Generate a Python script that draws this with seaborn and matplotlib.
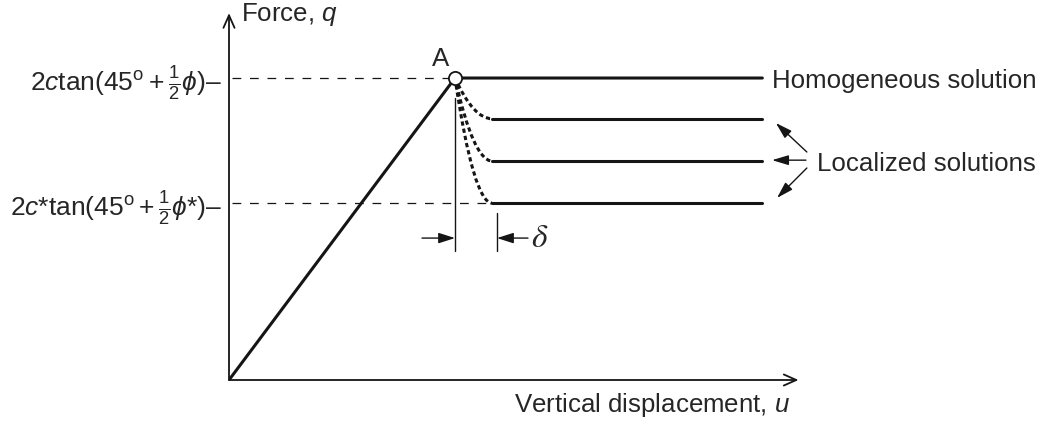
import matplotlib
matplotlib.use("Agg")
import matplotlib.pyplot as plt
import seaborn as sns
import pandas as pd
from matplotlib.path import Path
from matplotlib.patches import PathPatch

# ---------------- data ----------------
u_peak = 1.0            # displacement at point A
q_peak = 1.0            # peak force (homogeneous level)
u_loc_start = 1.164     # where localized plateaus begin
u_end = 2.36            # end of plateaus
q_localized = [0.865, 0.725, 0.586]
u_axis_max = 2.52
q_axis_max = 1.215
u_delta_mark = 1.186    # second dimension line (delta)
ytick_values = [q_peak, q_localized[-1]]
ytick_labels = [r"2$c$tan(45$^{\mathrm{o}}+\frac{1}{2}\phi$)–",
                r"2$c$*tan(45$^{\mathrm{o}}+\frac{1}{2}\phi$*)–"]
label_x = "Vertical displacement, $u$"
label_y = "Force, $q$"
label_homog = "Homogeneous solution"
label_loc = "Localized solutions"
label_A = "A"

# ---------------- style ----------------
sns.set_theme(style="white")
plt.rcParams["font.family"] = ["Liberation Sans", "DejaVu Sans"]
plt.rcParams["mathtext.fontset"] = "custom"
plt.rcParams["mathtext.rm"] = "Liberation Sans"
plt.rcParams["mathtext.it"] = "Liberation Sans:italic"
plt.rcParams["mathtext.bf"] = "Liberation Sans:bold"
plt.rcParams["mathtext.fallback"] = "stix"

FS = 18.6
INK = "#151515"
fig = plt.figure(figsize=(10.42, 4.23), dpi=100)
ax = fig.add_axes([229 / 1042, 43 / 423, 569.5 / 1042, 366.9 / 423])
ax.set_xlim(0, u_axis_max)
ax.set_ylim(0, q_axis_max)

LW = 2.2
# homogeneous path (elastic + plateau)
homog = pd.DataFrame({"u": [0, u_peak, u_end], "q": [0, q_peak, q_peak]})
sns.lineplot(data=homog, x="u", y="q", sort=False, color=INK, lw=LW, ax=ax)
# localized plateaus
for q in q_localized:
    d = pd.DataFrame({"u": [u_loc_start, u_end], "q": [q, q]})
    sns.lineplot(data=d, x="u", y="q", sort=False, color=INK, lw=LW, ax=ax)

# softening transitions (dotted curves)
for q in q_localized:
    verts = [(u_peak, q_peak), ((u_peak + u_loc_start) / 2, q), (u_loc_start, q)]
    path = Path(verts, [Path.MOVETO, Path.CURVE3, Path.CURVE3])
    ax.add_patch(PathPatch(path, fill=False, edgecolor=INK, lw=LW,
                           linestyle=(0, (1.4, 1.0)), capstyle="butt", zorder=3))

# dashed guides
ax.plot([0.012, u_peak], [q_peak, q_peak], color=INK, lw=0.9,
        linestyle=(0, (7, 7)), zorder=2)
ax.plot([0.012, u_loc_start], [q_localized[-1]] * 2, color=INK, lw=0.9,
        linestyle=(0, (7, 7)), zorder=2)

# point A
ax.plot([u_peak], [q_peak], marker="o", ms=9.5, mfc="white", mec=INK,
        mew=1.3, zorder=5)
ax.text(0.938, 1.063, label_A, fontsize=FS, ha="center", va="center")

# dimension lines for delta
ax.plot([u_peak, u_peak], [0.427, 0.934], color=INK, lw=1.0)
ax.plot([u_delta_mark, u_delta_mark], [0.427, 0.553], color=INK, lw=1.0)
arr = dict(arrowstyle="-|>,head_length=0.5,head_width=0.16", lw=1.0,
           color=INK, mutation_scale=20, shrinkA=0, shrinkB=0)
ax.annotate("", xy=(u_peak, 0.470), xytext=(0.854, 0.470), arrowprops=arr)
ax.annotate("", xy=(u_delta_mark, 0.470), xytext=(1.323, 0.470), arrowprops=arr)
ax.text(1.338, 0.468, r"$\delta$", fontsize=24, ha="left", va="center",
        math_fontfamily="stix")

# axes arrows
axarr = dict(arrowstyle="->,head_length=0.45,head_width=0.2", lw=1.3,
             color=INK, mutation_scale=20, shrinkA=0, shrinkB=0)
ax.annotate("", xy=(u_axis_max, 0), xytext=(0, 0), arrowprops=axarr,
            annotation_clip=False)
ax.annotate("", xy=(0, q_axis_max), xytext=(0, 0), arrowprops=axarr,
            annotation_clip=False)

# right-hand labels
ax.text(2.403, q_peak, label_homog, fontsize=FS, ha="left", va="center_baseline",
        clip_on=False)
ax.text(2.602, q_localized[1], label_loc, fontsize=FS, ha="left",
        va="center_baseline", clip_on=False)
larr = dict(arrowstyle="-|>,head_length=0.5,head_width=0.15", lw=1.0,
            color=INK, mutation_scale=20, shrinkA=0, shrinkB=0)
ax.annotate("", xy=(2.420, 0.851), xytext=(2.557, 0.755), arrowprops=larr,
            annotation_clip=False)
ax.annotate("", xy=(2.403, 0.728), xytext=(2.553, 0.728), arrowprops=larr,
            annotation_clip=False)
ax.annotate("", xy=(2.425, 0.603), xytext=(2.557, 0.702), arrowprops=larr,
            annotation_clip=False)

# ticks and labels
ax.set_xticks([])
ax.set_yticks(ytick_values)
ax.set_yticklabels(ytick_labels, fontsize=19)
ax.tick_params(axis="y", length=0, pad=5)
for s in ax.spines.values():
    s.set_visible(False)

ax.set_xlabel(label_x, fontsize=FS, ha="right", va="center")
ax.xaxis.set_label_coords((790 - 229) / 569.5, -25 / 366.9)
ax.set_ylabel(label_y, fontsize=FS, rotation=0, ha="left", va="center")
ax.yaxis.set_label_coords((241 - 229) / 569.5, (380 - 15) / 366.9)

fig.savefig("out.png", dpi=100)
